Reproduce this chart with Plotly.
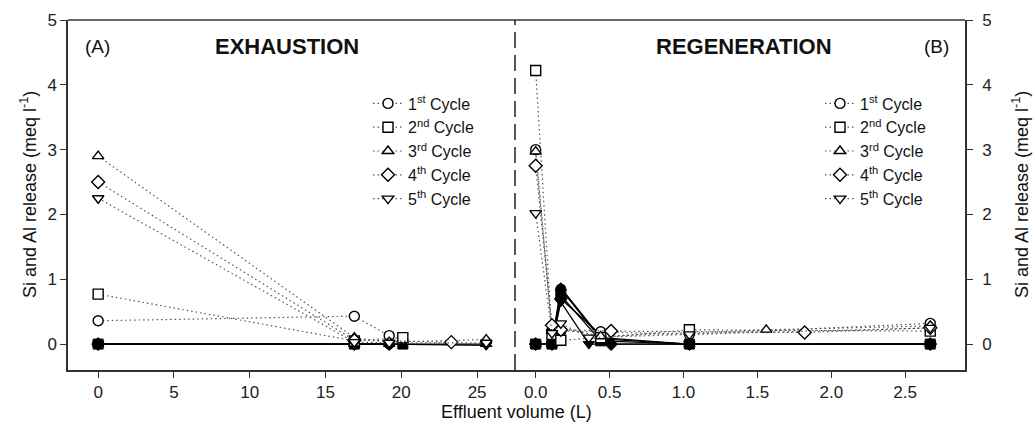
import plotly.graph_objects as go

# ---------------- data ----------------
cycles = ["1<sup>st</sup> Cycle", "2<sup>nd</sup> Cycle", "3<sup>rd</sup> Cycle",
          "4<sup>th</sup> Cycle", "5<sup>th</sup> Cycle"]
symbols = ["circle", "square", "triangle-up", "diamond", "triangle-down"]

# Exhaustion (A) - open markers (dotted)
ex_x_open = [[0, 16.9, 19.2],
             [0, 16.9, 20.1],
             [0, 16.9, 19.2, 25.6],
             [0, 16.9, 23.3],
             [0, 16.9, 19.2, 25.6]]
ex_y_open = [[0.36, 0.43, 0.13],
             [0.77, 0.05, 0.10],
             [2.90, 0.10, 0.03, 0.07],
             [2.50, 0.06, 0.03],
             [2.25, 0.03, 0.02, 0.02]]
# Exhaustion (A) - filled markers (solid)
ex_x_fill = [[0, 16.9, 19.2],
             [0, 16.9, 20.1],
             [0, 16.9, 19.2, 25.6],
             [0, 16.9, 19.2],
             [0, 16.9, 19.2, 25.6]]
ex_y_fill = [[0, 0, 0],
             [0, 0, 0],
             [0, 0, 0, 0],
             [0, 0, 0],
             [0, 0, 0, -0.02]]

# Regeneration (B) - open markers (dotted)
re_x_open = [[0, 0.11, 0.17, 0.44, 1.04, 2.67],
             [0, 0.11, 0.17, 0.44, 1.04, 2.67],
             [0, 0.11, 0.17, 0.44, 1.56, 2.67],
             [0, 0.11, 0.17, 0.51, 1.82, 2.67],
             [0, 0.11, 0.17, 0.36, 1.04, 2.67]]
re_y_open = [[3.00, 0.20, 0.20, 0.19, 0.15, 0.32],
             [4.22, 0.15, 0.06, 0.10, 0.22, 0.20],
             [2.97, 0.20, 0.25, 0.12, 0.22, 0.28],
             [2.75, 0.29, 0.22, 0.20, 0.18, 0.25],
             [2.02, 0.17, 0.32, 0.10, 0.15, 0.25]]
# Regeneration (B) - filled markers (solid)
re_x_fill = [[0, 0.11, 0.17, 0.44, 1.04, 2.67],
             [0, 0.11, 0.17, 0.44, 1.04, 2.67],
             [0, 0.11, 0.17, 0.44, 1.04, 2.67],
             [0, 0.11, 0.17, 0.51, 1.04, 2.67],
             [0, 0.11, 0.17, 0.36, 1.04, 2.67]]
re_y_fill = [[0, 0, 0.85, 0.08, 0, 0],
             [0, 0, 0.75, 0.05, 0, 0],
             [0, 0, 0.87, 0.10, 0, 0],
             [0, 0, 0.70, 0.00, 0, 0],
             [0, 0, 0.65, 0.00, 0, 0]]

x_ticks_a = [0, 5, 10, 15, 20, 25]
x_ticks_b = [0.0, 0.5, 1.0, 1.5, 2.0, 2.5]
y_ticks = [0, 1, 2, 3, 4, 5]

# ---------------- figure ----------------
FONT = "Arial, Liberation Sans, sans-serif"
AX = "#333333"
DOT = "#555555"
fig = go.Figure()

for i in range(5):
    fig.add_trace(go.Scatter(x=ex_x_fill[i], y=ex_y_fill[i], mode="lines+markers",
                             line=dict(color="black", width=1.3),
                             marker=dict(symbol=symbols[i], size=10, color="black",
                                         line=dict(color="black", width=1)),
                             showlegend=False, xaxis="x", yaxis="y"))
    fig.add_trace(go.Scatter(x=re_x_fill[i], y=re_y_fill[i], mode="lines+markers",
                             line=dict(color="black", width=1.3),
                             marker=dict(symbol=symbols[i], size=10, color="black",
                                         line=dict(color="black", width=1)),
                             showlegend=False, xaxis="x2", yaxis="y2"))

for i in range(5):
    fig.add_trace(go.Scatter(x=ex_x_open[i], y=ex_y_open[i], mode="lines+markers",
                             name=cycles[i], legend="legend",
                             line=dict(color=DOT, width=1.2, dash="1.5px,3px"),
                             marker=dict(symbol=symbols[i], size=10, color="white",
                                         line=dict(color="black", width=1.4)),
                             xaxis="x", yaxis="y"))
    fig.add_trace(go.Scatter(x=re_x_open[i], y=re_y_open[i], mode="lines+markers",
                             name=cycles[i], legend="legend2",
                             line=dict(color=DOT, width=1.2, dash="1.5px,3px"),
                             marker=dict(symbol=symbols[i], size=10, color="white",
                                         line=dict(color="black", width=1.4)),
                             xaxis="x2", yaxis="y2"))

split = (515 - 68) / 897

axis_common = dict(showline=True, linecolor=AX, linewidth=1.5, ticks="outside",
                   ticklen=6, tickwidth=1.3, tickcolor=AX, showgrid=False, zeroline=False,
                   tickfont=dict(family=FONT, size=17, color="#222"))

fig.update_layout(
    width=1035, height=427,
    margin=dict(l=68, r=70, t=20, b=57),
    paper_bgcolor="white", plot_bgcolor="white",
    font=dict(family=FONT, color="#111"),
    xaxis=dict(domain=[0, split], range=[-1.99, 27.5], tickvals=x_ticks_a,
               mirror=False, anchor="y", **axis_common),
    yaxis=dict(range=[-0.4, 5.0], tickvals=y_ticks, anchor="x", side="left", **axis_common),
    xaxis2=dict(domain=[split, 1], range=[-0.14, 2.905], tickvals=x_ticks_b,
                tickformat=".1f", anchor="y2", **axis_common),
    yaxis2=dict(range=[-0.4, 5.0], tickvals=y_ticks, anchor="x2", side="right",
                ticklabelstandoff=6, **axis_common),
    legend=dict(x=(368 - 68) / 897, y=0.81, xanchor="left", yanchor="top",
                bgcolor="rgba(0,0,0,0)", font=dict(family=FONT, size=16, color="#111"),
                tracegroupgap=0, itemwidth=30),
    legend2=dict(x=(820 - 68) / 897, y=0.81, xanchor="left", yanchor="top",
                 bgcolor="rgba(0,0,0,0)", font=dict(family=FONT, size=16, color="#111"),
                 tracegroupgap=0, itemwidth=30),
)

# top border and dashed divider
fig.add_shape(type="line", xref="paper", yref="paper", x0=0, x1=1, y0=1, y1=1,
              line=dict(color=AX, width=1.5))
fig.add_shape(type="line", xref="paper", yref="paper", x0=split, x1=split, y0=0, y1=1,
              line=dict(color="#222", width=1.5, dash="16px,7px"))

ann = [
    dict(text="(A)", x=(97 - 68) / 897, y=1 - (46 - 20) / 350, font=dict(size=19)),
    dict(text="<b>EXHAUSTION</b>", x=(287 - 68) / 897, y=1 - (46 - 20) / 350, font=dict(size=22)),
    dict(text="<b>REGENERATION</b>", x=(744 - 68) / 897, y=1 - (46 - 20) / 350, font=dict(size=22)),
    dict(text="(B)", x=(936 - 68) / 897, y=1 - (46 - 20) / 350, font=dict(size=19)),
    dict(text="Effluent volume (L)", x=(516 - 68) / 897, y=1 - (412 - 20) / 350, font=dict(size=18)),
    dict(text="Si and Al release (meq l<sup>-1</sup>)", x=(28 - 68) / 897, y=0.5,
         textangle=-90, font=dict(size=18)),
    dict(text="Si and Al release (meq l<sup>-1</sup>)", x=(1020 - 68) / 897, y=0.5,
         textangle=-90, font=dict(size=18)),
]
for a in ann:
    a["font"].update(family=FONT, color="#111")
    fig.add_annotation(xref="paper", yref="paper", showarrow=False,
                       xanchor="center", yanchor="middle", **a)

fig.write_html("out.html", config={"displayModeBar": False},
               post_script="document.body.style.margin='0';document.body.style.overflow='hidden';")
